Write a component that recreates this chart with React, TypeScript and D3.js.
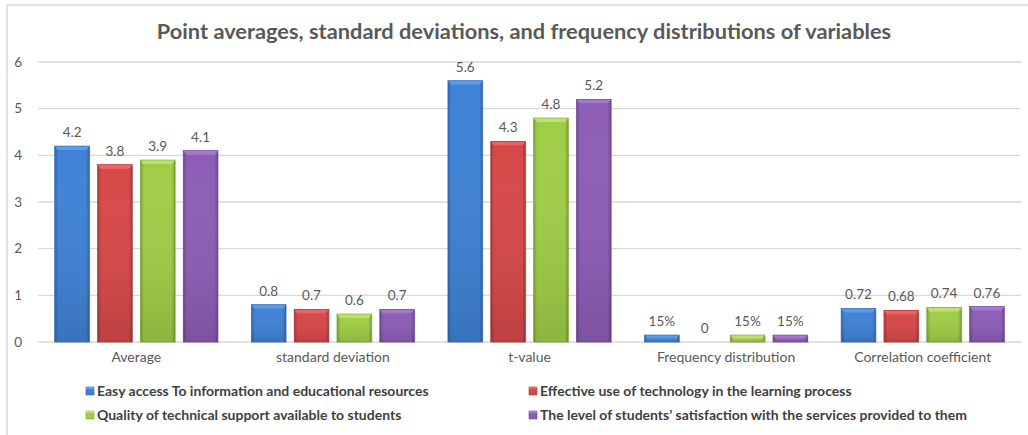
import React from 'react';
import * as d3 from 'd3';

// chart data
const categories = ['Average', 'standard deviation', 't-value', 'Frequency distribution', 'Correlation coefficient'];
const seriesNames = [
  'Easy access To information and educational resources',
  'Effective use of technology in the learning process',
  'Quality of technical support available to students',
  'The level of students\u2019 satisfaction with the services provided to them',
];
const easyAccess = [4.2, 0.8, 5.6, 0.15, 0.72];
const effectiveUse = [3.8, 0.7, 4.3, 0, 0.68];
const techSupport = [3.9, 0.6, 4.8, 0.15, 0.74];
const satisfaction = [4.1, 0.7, 5.2, 0.15, 0.76];
const easyLabels = ['4.2', '0.8', '5.6', '15%', '0.72'];
const effectiveLabels = ['3.8', '0.7', '4.3', '0', '0.68'];
const supportLabels = ['3.9', '0.6', '4.8', '15%', '0.74'];
const satisfactionLabels = ['4.1', '0.7', '5.2', '15%', '0.76'];
const yTicks = [0, 1, 2, 3, 4, 5, 6];

const series = [easyAccess, effectiveUse, techSupport, satisfaction];
const labels = [easyLabels, effectiveLabels, supportLabels, satisfactionLabels];
const colors = [
  { light: '#5b9be6', mid: '#3f82d6', dark: '#2f64ab' },
  { light: '#ec6464', mid: '#d74848', dark: '#a83434' },
  { light: '#bce26a', mid: '#a0cd47', dark: '#78a02f' },
  { light: '#a878d0', mid: '#8d5db6', dark: '#6a4590' },
];

const width = 1028;
const height = 435;
const plotLeft = 38;
const plotRight = 1021;
const font = 'Lato, "Open Sans", sans-serif';

export default function App() {
  const x0 = d3.scaleBand<string>().domain(categories).range([plotLeft, plotRight]).paddingInner(0.17).paddingOuter(0.085);
  const x1 = d3.scaleBand<number>().domain([0, 1, 2, 3]).range([0, x0.bandwidth()]).paddingInner(0.19);
  const y = d3.scaleLinear().domain([0, 6]).range([342, 62]);
  const cat = d3.scaleBand<string>().domain(categories).range([plotLeft, plotRight]);

  return (
    <svg width={width} height={height} style={{ position: 'absolute', left: 0, top: 0, background: '#fff' }}>
      <defs>
        {colors.map((c, i) => (
          <linearGradient key={i} id={`g${i}`} x1="0" x2="1" y1="0" y2="0">
            <stop offset="0%" stopColor={c.dark} />
            <stop offset="10%" stopColor={c.mid} />
            <stop offset="50%" stopColor={c.mid} />
            <stop offset="90%" stopColor={c.mid} />
            <stop offset="100%" stopColor={c.dark} />
          </linearGradient>
        ))}
        {colors.map((c, i) => (
          <linearGradient key={'v' + i} id={`v${i}`} x1="0" x2="0" y1="0" y2="1">
            <stop offset="0%" stopColor="#fff" stopOpacity={0} />
            <stop offset="100%" stopColor="#000" stopOpacity={0.12} />
          </linearGradient>
        ))}
      </defs>
      <rect x={7} y={5} width={1030} height={440} fill="none" stroke="#d9d9d9" strokeWidth={1.5} />
      <text x={524} y={39} textAnchor="middle" fontFamily={font} fontWeight="bold" fontSize={21.8} fill="#595959">
        Point averages, standard deviations, and frequency distributions of variables
      </text>
      {yTicks.map(t => (
        <g key={t}>
          <line x1={plotLeft} x2={plotRight} y1={y(t)} y2={y(t)} stroke="#d9d9d9" strokeWidth={1.3} />
          <text x={22} y={y(t) + 4.5} textAnchor="end" fontFamily={font} fontSize={13.5} fill="#595959">{t}</text>
        </g>
      ))}
      {categories.map((c, ci) => (
        <g key={c}>
          {series.map((s, si) => {
            const bx = (x0(c) ?? 0) + (x1(si) ?? 0);
            const bw = x1.bandwidth();
            const top = y(s[ci]);
            const h = y(0) - top;
            const bev = Math.min(4, h / 2);
            return (
              <g key={si}>
                {h > 0 && (
                  <>
                    <rect x={bx + 1} y={top + 1} width={bw} height={h} fill="#000" opacity={0.12} />
                    <rect x={bx} y={top} width={bw} height={h} fill={`url(#g${si})`} />
                    <rect x={bx} y={top} width={bw} height={h} fill={`url(#v${si})`} />
                    <polygon
                      points={`${bx},${top} ${bx + bw},${top} ${bx + bw - 3},${top + bev} ${bx + 3},${top + bev}`}
                      fill={colors[si].light}
                    />
                    <rect x={bx} y={top} width={bw} height={h} fill="none" stroke={colors[si].dark} strokeWidth={0.6} />
                  </>
                )}
                <text x={bx + bw / 2} y={top - 9} textAnchor="middle" fontFamily={font} fontSize={13.5} fill="#595959">
                  {labels[si][ci]}
                </text>
              </g>
            );
          })}
          <text x={(cat(c) ?? 0) + cat.bandwidth() / 2} y={362} textAnchor="middle" fontFamily={font} fontSize={14} fill="#595959">
            {c}
          </text>
        </g>
      ))}
      {seriesNames.map((n, i) => {
        const lx = i % 2 === 0 ? 86 : 529;
        const ly = i < 2 ? 392 : 416;
        return (
          <g key={n}>
            <rect x={lx} y={ly - 5} width={8} height={8} fill={colors[i].mid} stroke={colors[i].dark} strokeWidth={0.6} />
            <rect x={lx} y={ly - 5} width={8} height={2} fill={colors[i].light} />
            <text x={lx + 11} y={ly + 4} fontFamily={font} fontWeight="bold" fontSize={14} fill="#404040">{n}</text>
          </g>
        );
      })}
    </svg>
  );
}
